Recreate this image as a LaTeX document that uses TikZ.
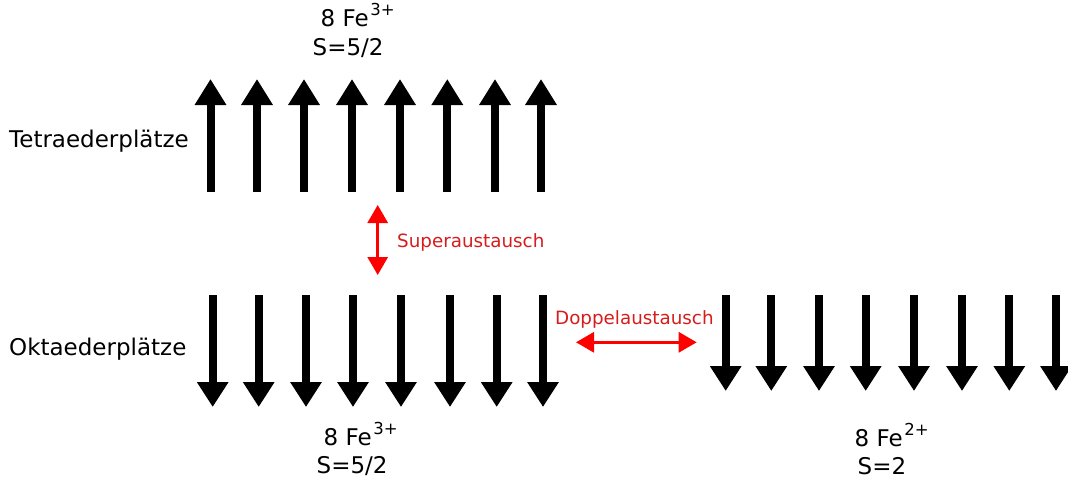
\documentclass[tikz,border=0pt]{standalone}
\usepackage{fontspec}
\setmainfont{DejaVu Sans}
\usetikzlibrary{arrows.meta}
\definecolor{exred}{RGB}{255,0,0}
\definecolor{extext}{RGB}{214,28,28}
\newcommand{\ioncharge}[1]{\hspace{1.5pt}\raisebox{11pt}{\fontsize{16.5}{16.5}\selectfont #1}}
\tikzset{
  spinup/.style={line width=8pt, -{Triangle[width=30pt,length=26pt]}},
  spindown/.style={line width=8pt, -{Triangle[width=30pt,length=25pt]}},
  exchange/.style={exred, line width=3pt, {Triangle[width=20pt,length=18pt]}-{Triangle[width=20pt,length=18pt]}},
  lbl/.style={inner sep=0pt, anchor=base west, font=\fontsize{23}{27}\selectfont},
  exlbl/.style={inner sep=0pt, anchor=base west, text=extext, font=\fontsize{18.3}{22}\selectfont},
}
\begin{document}
\begin{tikzpicture}[x=1pt,y=-1pt]
\useasboundingbox (0,0) rectangle (1068,479);

% tetrahedral sites: 8 spins up
\foreach \x [count=\i] in {210.5,257,304,352,400,447.3,495,541}{
  \coordinate (ta\i) at (\x,192);
  \coordinate (tb\i) at (\x,79);
  \draw[spinup] (ta\i) -- (tb\i);
}
% octahedral sites, Fe3+: 8 spins down
\foreach \x [count=\i] in {212.7,258.7,306,353,401,450,496.7,543}{
  \coordinate (oa\i) at (\x,295);
  \coordinate (ob\i) at (\x,407);
  \draw[spindown] (oa\i) -- (ob\i);
}
% octahedral sites, Fe2+: 8 spins down
\foreach \x [count=\i] in {725.7,771.3,819,865.7,914,962,1009.3,1056}{
  \coordinate (pa\i) at (\x,295);
  \coordinate (pb\i) at (\x,391);
  \draw[spindown] (pa\i) -- (pb\i);
}

% site labels
\node[lbl] (tet) at (9,147.5) {Tetraederplätze};
\node[lbl] (okt) at (9,355.5) {Oktaederplätze};

% ion labels
\node[lbl] (fe1) at (320.5,26.7) {8 Fe\ioncharge{3+}};
\node[lbl] (s1) at (312.5,55) {S=5/2};
\node[lbl] (fe2) at (323.5,445.5) {8 Fe\ioncharge{3+}};
\node[lbl] (s2) at (316.5,473) {S=5/2};
\node[lbl] (fe3) at (854.5,446.3) {8 Fe\ioncharge{2+}};
\node[lbl] (s3) at (857.5,474) {S=2};

% exchange interactions
\coordinate (su1) at (377.7,205);
\coordinate (su2) at (377.7,275);
\draw[exchange] (su1) -- (su2);
\node[exlbl] (sup) at (397,247) {Superaustausch};

\coordinate (dp1) at (576,342.3);
\coordinate (dp2) at (696.7,342.3);
\draw[exchange] (dp1) -- (dp2);
\node[exlbl] (dop) at (555,324.3) {Doppelaustausch};
\end{tikzpicture}
\end{document}
